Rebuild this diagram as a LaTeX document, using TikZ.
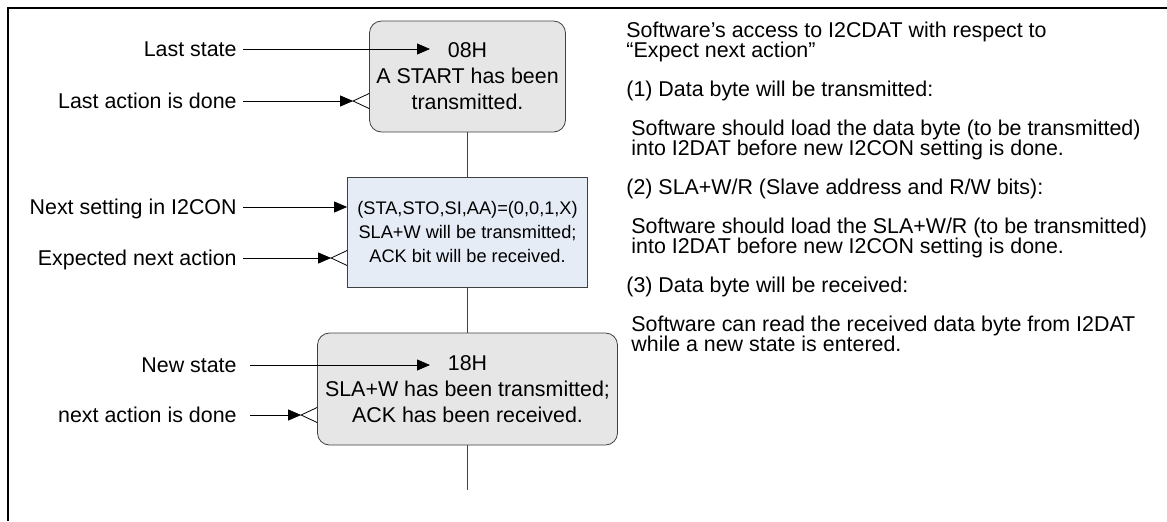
\documentclass[tikz,border=0pt]{standalone}
\usepackage{fontspec}
\setmainfont{Liberation Sans}
\usetikzlibrary{arrows.meta,calc,positioning}

\definecolor{statefill}{HTML}{E6E6E6}
\definecolor{setfill}{HTML}{E5ECF6}
\definecolor{edgegray}{HTML}{404040}

\tikzset{
  txt/.style={font=\fontsize{10.7}{13}\selectfont},
  statebox/.style={txt,draw=edgegray,fill=statefill,rounded corners=6pt,align=center,inner sep=0pt},
  setbox/.style={font=\fontsize{9.1}{12.2}\selectfont,draw=edgegray,fill=setfill,align=center,inner sep=0pt},
  lbl/.style={txt,anchor=east,inner ysep=0pt,inner xsep=3pt,text height=0.72em,text depth=0pt},
  note/.style={txt,anchor=base west,inner sep=0pt},
  tip/.style={-{Triangle[length=6.5pt,width=5.5pt]}},
}

\begin{document}
\begin{tikzpicture}[x=0.5pt,y=-0.5pt]
\useasboundingbox (0,0) rectangle (1167,521);
\draw[line width=1pt] (1167,8) -- (8,8) -- (8,521);

% state flow
\node[statebox,minimum width=98pt,minimum height=55.5pt] (st1) at (467.5,76.5)
  {08H\\A START has been\\transmitted.};
\node[setbox,minimum width=120pt,minimum height=55pt] (st2) at (467.5,232)
  {(STA,STO,SI,AA)=(0,0,1,X)\\SLA+W will be transmitted;\\ACK bit will be received.};
\node[statebox,minimum width=150pt,minimum height=56pt] (st3) at (467.5,389)
  {18H\\SLA+W has been transmitted;\\ACK has been received.};
\coordinate (flowend) at (467.5,490);

\draw[edgegray] (st1) -- (st2) (st2) -- (st3) (st3) -- (flowend);

% labels on the left
\node[lbl] (laststate) at (243,49)  {Last state};
\node[lbl] (lastdone)  at (243,101) {Last action is done};
\node[lbl] (nextset)   at (243,207) {Next setting in I2CON};
\node[lbl] (expnext)   at (243,258) {Expected next action};
\node[lbl,inner xsep=6.5pt] (newstate) at (250,365) {New state};
\node[lbl,inner xsep=6.5pt] (nextdone) at (250,415) {next action is done};

\coordinate (laststate-end) at (430,49);
\coordinate (newstate-end)  at (430,365);
\draw[tip] (laststate.east) -- (laststate-end);
\draw[tip] (newstate.east) -- (newstate-end);
\draw[tip] (nextset.east) -- (st2.west |- nextset.east);

\foreach \l/\b in {lastdone/st1,expnext/st2,nextdone/st3} {
  \draw[tip] (\l.east) -- ($(\b.west |- \l.east)+(-16,0)$) coordinate (\l-tip);
  \draw ($(\b.west |- \l.east)+(0,-7.5)$) -- (\l-tip) -- ($(\b.west |- \l.east)+(0,7.5)$);
}

% notes on the right
\foreach \yy/\xx/\txt [count=\i] in {
  30/626/{Software’s access to I2CDAT with respect to},
  50/626/{“Expect next action”},
  89/626/{(1) Data byte will be transmitted:},
  128/631/{Software should load the data byte (to be transmitted)},
  148/631/{into I2DAT before new I2CON setting is done.},
  187/626/{(2) SLA+W/R (Slave address and R/W bits):},
  226/631/{Software should load the SLA+W/R (to be transmitted)},
  246/631/{into I2DAT before new I2CON setting is done.},
  285/626/{(3) Data byte will be received:},
  324/631/{Software can read the received data byte from I2DAT},
  344/631/{while a new state is entered.}}
  \node[note] (note\i) at (\xx,\yy+7.5) {\txt};
\end{tikzpicture}
\end{document}
